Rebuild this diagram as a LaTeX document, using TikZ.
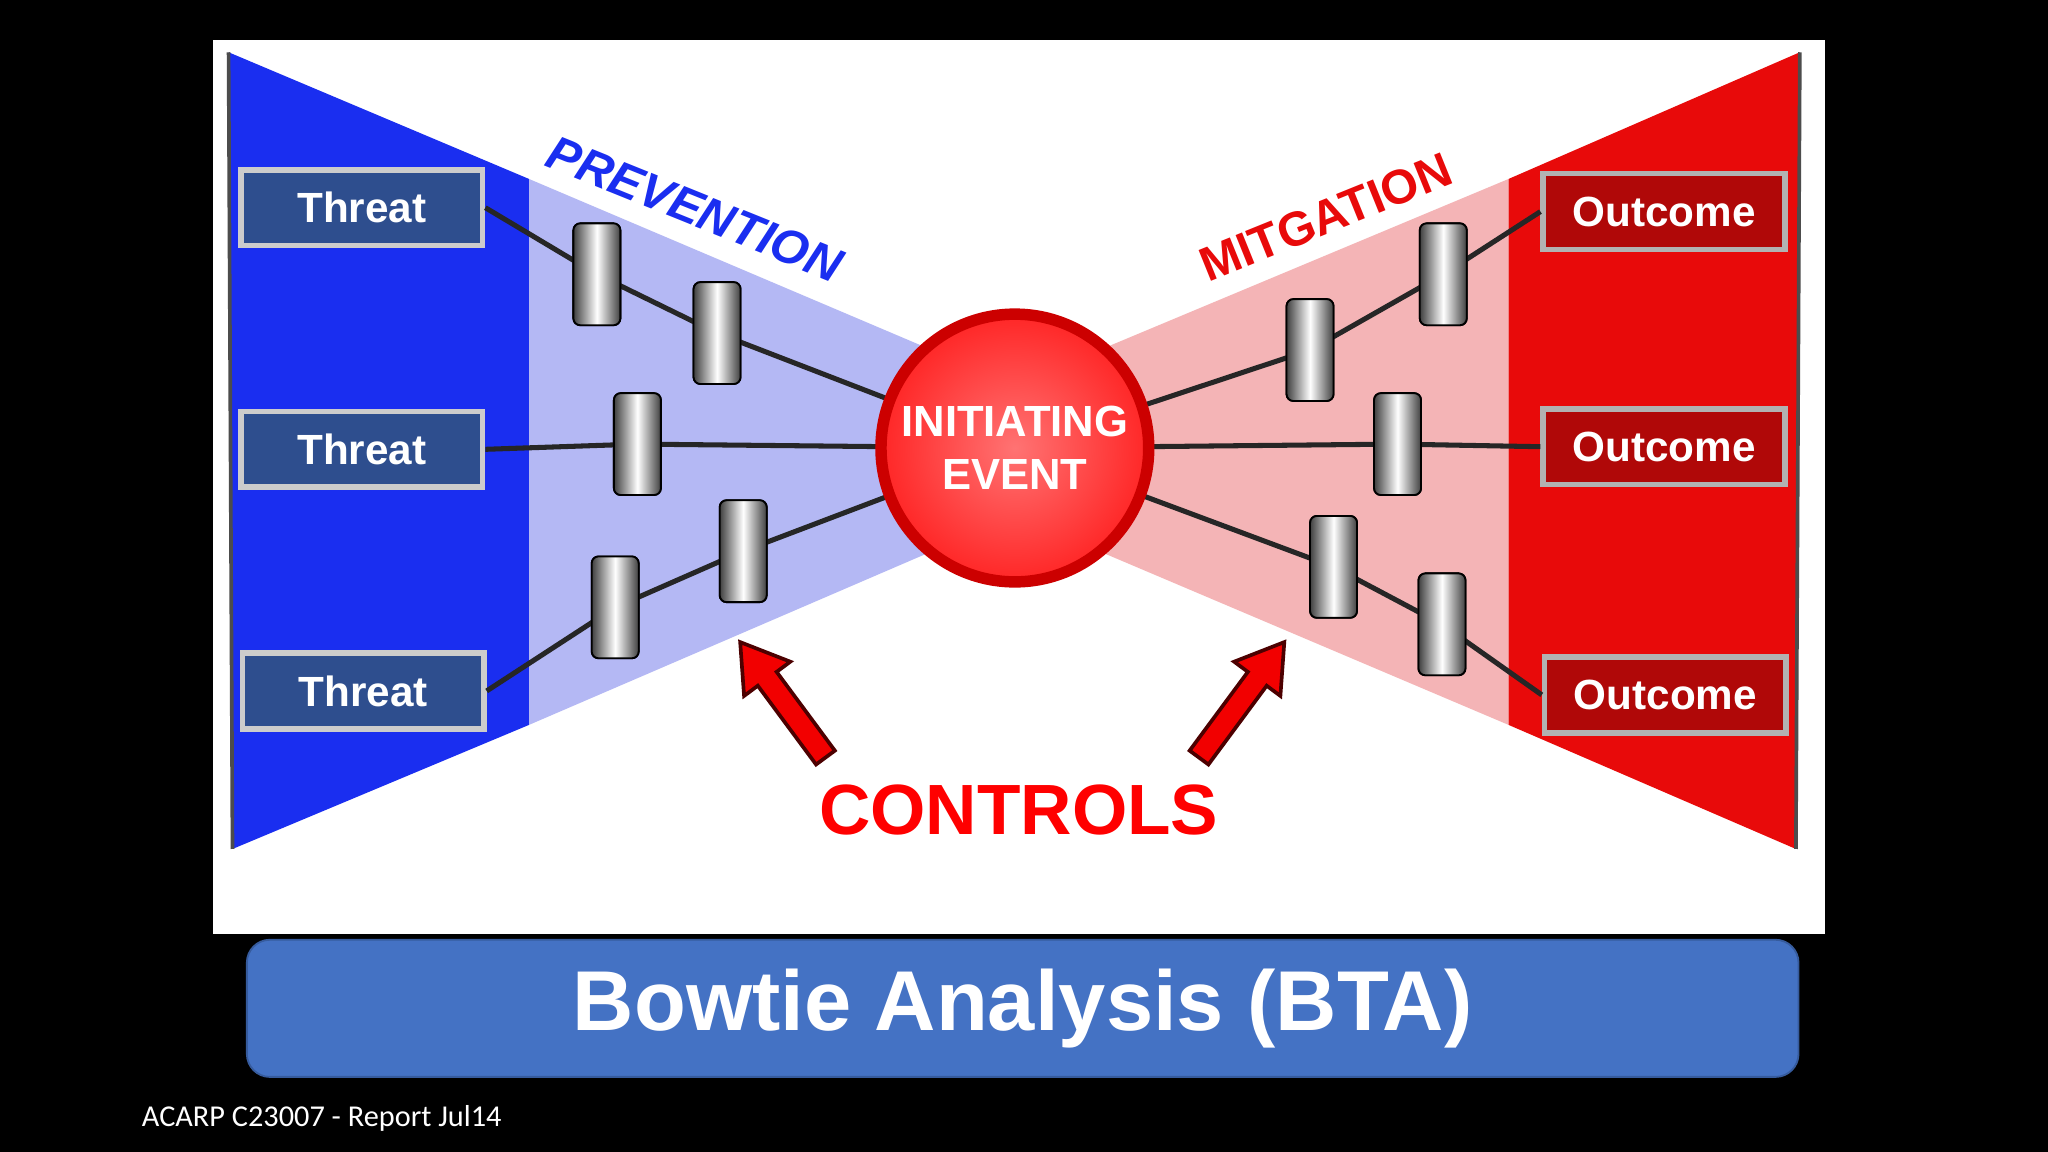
\documentclass[tikz,border=0pt]{standalone}
\usepackage{fontspec}
\setmainfont{Liberation Sans}
\newfontfamily\carl{Carlito}
\definecolor{dblue}{HTML}{1A2EF0}
\definecolor{lblue}{HTML}{B4B8F4}
\definecolor{dred}{HTML}{E80A0A}
\definecolor{lred}{HTML}{F4B4B6}
\definecolor{tbox}{HTML}{2E4E8E}
\definecolor{obox}{HTML}{B00808}
\definecolor{banner}{HTML}{4472C4}
\tikzset{
 threatbox/.style={draw=gray!40,line width=1.2pt,fill=tbox,minimum width=1.85cm,minimum height=0.58cm,text=white,font=\bfseries\fontsize{9.2}{11}\selectfont},
 outbox/.style={draw=gray!60,line width=1.2pt,fill=obox,minimum width=1.85cm,minimum height=0.58cm,text=white,font=\bfseries\fontsize{9.2}{11}\selectfont},
 barrier/.style={draw=black,rounded corners=1.5pt,minimum width=0.36cm,minimum height=0.78cm,inner sep=0pt,left color=black!75,right color=black!75,middle color=white},
 link/.style={line width=1.1pt,black!85},
 arrowshape/.style={fill=red!95!black,draw=black!70!red,line width=0.8pt,line join=miter}
}
\begin{document}
\begin{tikzpicture}[x=0.1mm,y=-0.1mm]
\fill[black] (0,0) rectangle (1568,882);
\fill[white] (163,31) rectangle (1397,715);
\fill[lblue] (405,137) -- (730,275) -- (730,415) -- (405,555) -- cycle;
\fill[dblue] (175,40) -- (405,137) -- (405,555) -- (178,650) -- cycle;
\draw[black!70,line width=0.8pt] (178,650) -- (175,40);
\fill[lred] (1155,137) -- (825,275) -- (825,415) -- (1155,555) -- cycle;
\fill[dred] (1378,40) -- (1155,137) -- (1155,555) -- (1375,650) -- cycle;
\draw[black!70,line width=0.8pt] (1375,650) -- (1378,40);
\node[rotate=-22,text=dblue,inner sep=0pt,font=\bfseries\itshape\fontsize{10.5}{12}\selectfont] (prev) at (532,160) {PREVENTION};
\node[rotate=22,text=dred,inner sep=0pt,font=\bfseries\fontsize{10.5}{12}\selectfont] (mitg) at (1015,166) {MITGATION};
\node[threatbox] (t1) at (277,159) {Threat};
\node[threatbox] (t2) at (277,344) {Threat};
\node[threatbox] (t3) at (278,529) {Threat};
\node[outbox] (o1) at (1274,162) {Outcome};
\node[outbox] (o2) at (1274,342) {Outcome};
\node[outbox] (o3) at (1275,532) {Outcome};
\coordinate (c) at (777,343);
\node[barrier] (b1) at (457,210) {};
\node[barrier] (b2) at (549,255) {};
\node[barrier] (b3) at (488,340) {};
\node[barrier] (b4) at (471,465) {};
\node[barrier] (b5) at (569,422) {};
\node[barrier] (b6) at (1105,210) {};
\node[barrier] (b7) at (1003,268) {};
\node[barrier] (b8) at (1070,340) {};
\node[barrier] (b9) at (1021,434) {};
\node[barrier] (b10) at (1104,478) {};
\draw[link] (t1.east) -- (b1.center) -- (b2.center) -- (c);
\draw[link] (t2.east) -- (b3.center) -- (c);
\draw[link] (t3.east) -- (b4.center) -- (b5.center) -- (c);
\draw[link] (o1.west) -- (b6.center) -- (b7.center) -- (c);
\draw[link] (o2.west) -- (b8.center) -- (c);
\draw[link] (o3.west) -- (b10.center) -- (b9.center) -- (c);
\foreach \b in {b1,b2,b3,b4,b5,b6,b7,b8,b9,b10}{\node[barrier] at (\b) {};}
\node[circle,minimum size=2.05cm,inner sep=0pt,outer sep=0pt,draw=red!80!black,line width=2.5pt,inner color=red!55,outer color=red!85,text=white,align=center,font=\bfseries\fontsize{9.5}{11.5}\selectfont] (ie) at (777,343) {INITIATING\\EVENT};
\node[text=red,font=\bfseries\fontsize{15.5}{18}\selectfont] (ctl) at (780,620) {CONTROLS};
\filldraw[arrowshape] (639.2,574.7) -- (594.6,514.4) -- (605.1,506.6) -- (566.7,491.6) -- (569.7,532.8) -- (580.2,525.0) -- (624.8,585.3) -- cycle;
\filldraw[arrowshape] (910.8,574.7) -- (955.4,514.4) -- (944.9,506.6) -- (983.3,491.6) -- (980.3,532.8) -- (969.8,525.0) -- (925.2,585.3) -- cycle;
\node[fill=banner,draw=banner!80!black,rounded corners=5pt,minimum width=11.88cm,minimum height=1.05cm,text=white,font=\bfseries\fontsize{18.5}{21}\selectfont] (ban) at (783,772) {Bowtie Analysis (BTA)};
\node[anchor=west,inner sep=0pt,text=white,font=\carl\fontsize{6.6}{7.5}\selectfont] (foot) at (108,856) {ACARP C23007 - Report Jul14};
\end{tikzpicture}
\end{document}
